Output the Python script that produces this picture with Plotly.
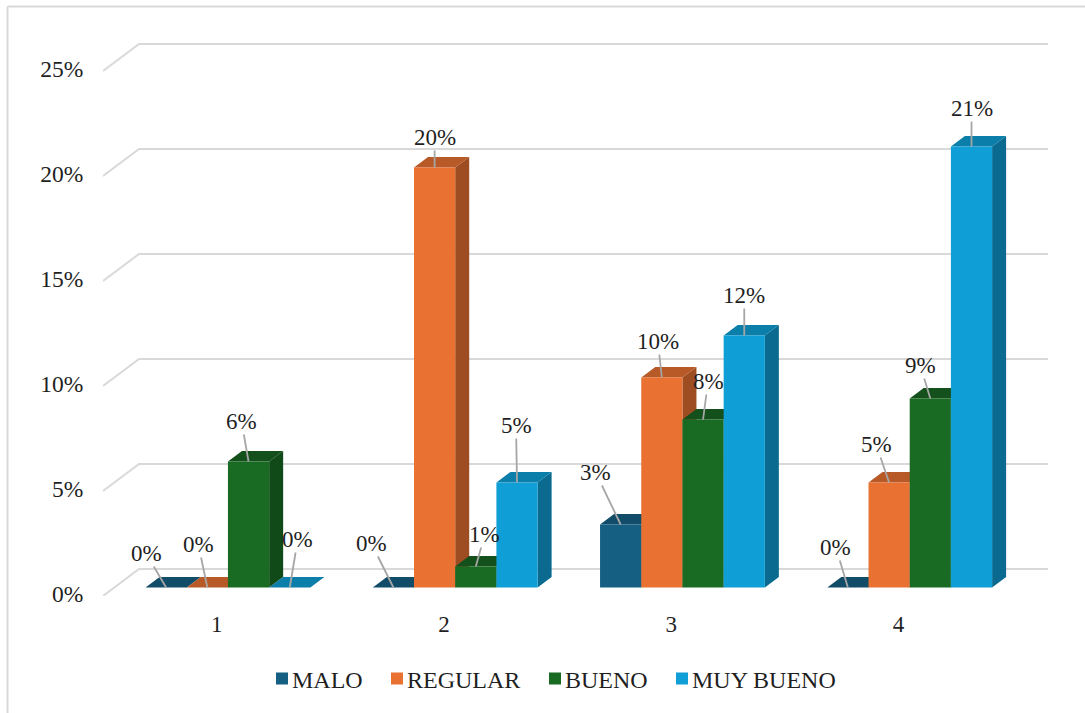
import plotly.graph_objects as go

# ---- data ----
categories = [1, 2, 3, 4]
series_names = ["MALO", "REGULAR", "BUENO", "MUY BUENO"]
malo = [0, 0, 3, 0]
regular = [0, 20, 10, 5]
bueno = [6, 1, 8, 9]
muy_bueno = [0, 5, 12, 21]
y_ticks = [0, 5, 10, 15, 20, 25]
y_tick_labels = ["0%", "5%", "10%", "15%", "20%", "25%"]

# ---- styling ----
front_colors = ["#156082", "#E97132", "#196B24", "#0F9ED5"]
top_colors = ["#114D68", "#B85A28", "#14501C", "#0C7EAA"]
side_colors = ["#0E4159", "#9E4D22", "#114A19", "#0A6A8F"]
FONT = "Liberation Serif"
TXT = "#1f1f1f"
GRID = "#d9d9d9"

W, H = 1085, 713
L, B = 103, 117           # plot-area origin in pixels (left, bottom margin)
PX_X = 227.25             # pixels per category
PX_Y = 21.0               # pixels per percentage point

BAR_W = 41.2 / PX_X
FRONT_DX, FRONT_DY = 11.33 / PX_X, 8.5 / PX_Y    # axis plane -> bar front plane
DEPTH_DX, DEPTH_DY = 14.0 / PX_X, 10.5 / PX_Y    # bar depth
WALL_DX, WALL_DY = 36.0 / PX_X, 27.0 / PX_Y      # axis plane -> back wall

# label centre offsets from each bar's front-top centre, in pixels (dx, dy)
label_offsets = [
    [(-20, -34), (-9, -43), (-7, -40), (8, -48)],
    [(-22, -44), (0, -30), (9, -32), (-1, -57)],
    [(-25, -52), (-4, -36), (5, -38), (0, -40)],
    [(-12, -40), (-13, -38), (-10, -33), (0, -38)],
]
# left edge of each legend box, pixels
legend_lefts = [262, 377, 535, 662]

all_values = [malo, regular, bueno, muy_bueno]
legend_ids = ["legend", "legend2", "legend3", "legend4"]


def paper_x(px):
    return (px - L) / (W - L)


def paper_y(py):
    return (H - B - py) / (H - B)


fig = go.Figure()
annotations = []

for s, (name, vals) in enumerate(zip(series_names, all_values)):
    off = FRONT_DX + (s - 2) * BAR_W
    side_x, side_y, top_x, top_y = [], [], [], []
    for c, v in zip(categories, vals):
        xl = c + off
        xr = xl + BAR_W
        y0 = FRONT_DY
        y1 = FRONT_DY + v
        side_x += [xr, xr, xr + DEPTH_DX, xr + DEPTH_DX, xr, None]
        side_y += [y0, y1, y1 + DEPTH_DY, y0 + DEPTH_DY, y0, None]
        top_x += [xl, xr, xr + DEPTH_DX, xl + DEPTH_DX, xl, None]
        top_y += [y1, y1, y1 + DEPTH_DY, y1 + DEPTH_DY, y1, None]
        dx, dy = label_offsets[categories.index(c)][s]
        annotations.append(dict(
            x=xl + BAR_W / 2, y=y1, xref="x", yref="y",
            text=f"{v}%", showarrow=True, arrowhead=0, arrowwidth=1.8,
            arrowcolor="#a6a6a6", standoff=0, ax=dx, ay=dy,
            font=dict(family=FONT, size=23, color=TXT),
            borderpad=0,
        ))
    fig.add_trace(go.Scatter(x=side_x, y=side_y, mode="lines", fill="toself",
                             fillcolor=side_colors[s], line=dict(width=0),
                             showlegend=False, hoverinfo="skip", zorder=s * 2))
    fig.add_trace(go.Scatter(x=top_x, y=top_y, mode="lines", fill="toself",
                             fillcolor=top_colors[s], line=dict(width=0),
                             showlegend=False, hoverinfo="skip", zorder=s * 2))
    fig.add_trace(go.Bar(x=categories, y=vals, base=FRONT_DY, name=name,
                         width=BAR_W, offset=off, legend=legend_ids[s],
                         marker=dict(color=front_colors[s], line=dict(width=0)),
                         zorder=s * 2 + 1))

# back-wall gridlines with their diagonal to the axis plane
shapes = []
for t in y_ticks:
    shapes.append(dict(
        type="path", xref="x", yref="y", layer="below",
        path=f"M 0.5 {t} L {0.5 + WALL_DX} {t + WALL_DY} L {4.5 + WALL_DX} {t + WALL_DY}",
        line=dict(color=GRID, width=2),
    ))

# outer chart frame (top and left edges are what shows)
shapes.append(dict(type="line", xref="paper", yref="paper",
                   x0=paper_x(7.5), x1=paper_x(1085), y0=paper_y(6.5), y1=paper_y(6.5),
                   line=dict(color=GRID, width=2)))
shapes.append(dict(type="line", xref="paper", yref="paper",
                   x0=paper_x(7.5), x1=paper_x(7.5), y0=paper_y(6.5), y1=paper_y(713),
                   line=dict(color=GRID, width=2)))

legends = {
    lid: dict(orientation="h", x=paper_x(left), xanchor="left",
              y=paper_y(679), yanchor="middle", bgcolor="rgba(0,0,0,0)",
              font=dict(family=FONT, size=24, color=TXT))
    for lid, left in zip(legend_ids, legend_lefts)
}

fig.update_layout(
    width=W, height=H,
    margin=dict(l=L, r=0, t=0, b=B, pad=0),
    paper_bgcolor="white", plot_bgcolor="white",
    barmode="overlay",
    font=dict(family=FONT, size=23, color=TXT),
    xaxis=dict(range=[0.5, 0.5 + (W - L) / PX_X], tickvals=categories,
               ticktext=[str(c) for c in categories], showgrid=False, zeroline=False,
               showline=False, ticks="outside", ticklen=7, tickcolor="rgba(0,0,0,0)",
               tickfont=dict(family=FONT, size=23, color=TXT)),
    yaxis=dict(range=[0, (H - B) / PX_Y], tickvals=y_ticks, ticktext=y_tick_labels,
               showgrid=False, zeroline=False, showline=False, ticks="outside",
               ticklen=14, tickcolor="rgba(0,0,0,0)", ticklabelshift=-2,
               tickfont=dict(family=FONT, size=23.5, color=TXT)),
    shapes=shapes,
    annotations=annotations,
    **legends,
)

post = """
document.body.style.margin='0';document.body.style.overflow='hidden';
var st=document.createElement('style');
st.textContent='.legendtext,.legend2text,.legend3text,.legend4text{transform:translateX(-10px);}';
document.head.appendChild(st);
"""
fig.write_html("out.html", config={"displayModeBar": False}, post_script=post)
